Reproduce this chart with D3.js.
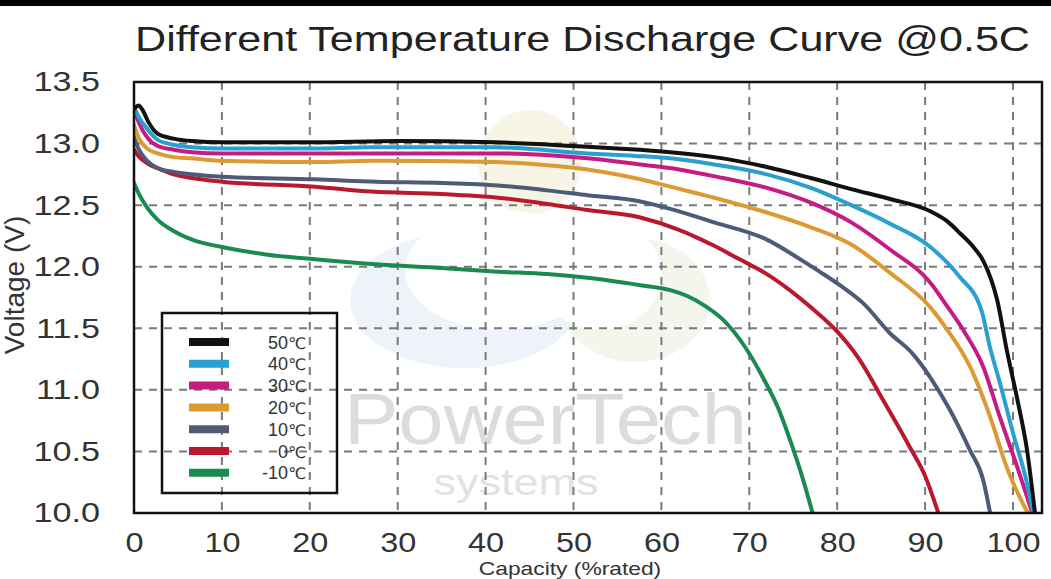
<!DOCTYPE html>
<html><head><meta charset="utf-8">
<script src="https://cdn.jsdelivr.net/npm/d3@7"></script>
<style>body{margin:0;background:#fff;} svg{display:block;}</style>
</head><body><svg id="c" width="1051" height="579"></svg>
<script>
const chartTitle = "Different Temperature Discharge Curve @0.5C";
const xLabel = "Capacity (%rated)";
const yLabel = "Voltage (V)";
const xTicks = [0,10,20,30,40,50,60,70,80,90,100];
const yTicks = [10.0,10.5,11.0,11.5,12.0,12.5,13.0,13.5];
const seriesTemps = ["50","40","30","20","10","0","-10"];
const tempUnit = "℃";

const s50 = [[0,13.28],[0.5,13.31],[1,13.27],[1.6,13.18],[2.7,13.08],[4.5,13.04],[6.6,13.02],[10,13.01],[20,13.01],[30,13.02],[41,13.01],[50,12.98],[55,12.96],[61,12.93],[66,12.89],[72,12.81],[77,12.72],[81.6,12.63],[86,12.55],[90.6,12.45],[92.5,12.37],[94,12.27],[95.5,12.16],[96.6,12.05],[97.5,11.9],[98.2,11.73],[99.3,11.32],[100.5,10.92],[101.6,10.51],[102.5,10.0]];
const s40 = [[0,13.3],[0.5,13.22],[1.5,13.12],[2.7,13.03],[4.5,12.99],[6.6,12.97],[10,12.96],[20,12.96],[27,12.97],[41,12.97],[51.6,12.92],[57,12.9],[61,12.88],[66,12.83],[72,12.75],[77,12.64],[81.6,12.5],[86,12.35],[90.6,12.16],[93.9,11.92],[96.4,11.65],[97.4,11.34],[98.5,11.06],[100,10.65],[101.6,10.24],[102.3,10.0]];
const s30 = [[0,13.28],[0.5,13.18],[1.5,13.05],[2.7,12.98],[4.5,12.95],[6.6,12.93],[10,12.92],[20,12.92],[30,12.92],[41,12.92],[51.6,12.88],[57.6,12.83],[62,12.79],[67,12.72],[72,12.64],[77,12.52],[81.6,12.36],[86,12.14],[90.6,11.87],[92.5,11.68],[94.3,11.49],[96.6,11.19],[98.5,10.78],[100.5,10.37],[102.2,10.0]];
const s20 = [[0,13.15],[0.5,13.05],[1.5,12.96],[2.7,12.92],[4.5,12.89],[6.6,12.88],[10,12.86],[20.6,12.85],[27,12.86],[41,12.85],[46,12.83],[51.6,12.79],[57.6,12.71],[61,12.65],[66,12.56],[72,12.44],[77,12.32],[81.6,12.18],[86,11.95],[90.6,11.67],[92.5,11.49],[95.1,11.19],[97.4,10.78],[99.3,10.37],[101.1,10.08],[101.7,10.0]];
const s10 = [[0,13.05],[0.5,12.96],[1.5,12.86],[2.7,12.8],[4.5,12.77],[6.6,12.75],[10,12.73],[20.6,12.71],[27.5,12.69],[35,12.68],[41.4,12.66],[47,12.62],[51.6,12.58],[57.6,12.53],[61,12.47],[66,12.36],[72,12.22],[75.8,12.06],[78,11.96],[80.3,11.85],[83,11.7],[86,11.46],[88.5,11.3],[90.6,11.1],[92.8,10.84],[95.1,10.51],[96.6,10.27],[97.4,10.0]];
const s0 = [[0,12.95],[0.5,12.9],[1.5,12.84],[2.7,12.8],[4.5,12.75],[6.6,12.72],[10,12.69],[20.6,12.65],[27,12.61],[35,12.59],[41.4,12.56],[47,12.51],[51.6,12.46],[57.6,12.4],[62,12.3],[66,12.17],[68.9,12.06],[72,11.94],[74.6,11.81],[77,11.67],[80.3,11.45],[82.5,11.25],[85.2,10.92],[88.3,10.53],[90,10.3],[91.5,10.0]];
const sm10 = [[0,12.68],[0.5,12.6],[1.5,12.48],[2.7,12.38],[4.5,12.29],[6.6,12.22],[10,12.16],[15,12.1],[20.6,12.06],[27.5,12.02],[35,11.99],[41.4,11.96],[47,11.94],[51.6,11.91],[57.6,11.85],[61,11.81],[63,11.76],[65,11.68],[67,11.57],[69.5,11.35],[71.7,11.08],[73.3,10.85],[74.6,10.6],[76,10.3],[77.2,10.0]];
const seriesData = [s50,s40,s30,s20,s10,s0,sm10];
const seriesColors = ["#111111","#2a9fd2","#c41c83","#dc9a33","#4d5a78","#b8192e","#1b8a50"];

const svg = d3.select("#c");
const FONT = "'Liberation Sans', Arial, sans-serif";
const SYM = "'DejaVu Sans', sans-serif";
const L=134, R=1042, T=82, B=513;
const x = d3.scaleLinear().domain([0,103.3]).range([L,R]);
const y = d3.scaleLinear().domain([10,13.5]).range([B,T]);

function stretch(sel,k){ sel.each(function(){ const w=this.getComputedTextLength(); d3.select(this).attr("textLength",w*k).attr("lengthAdjust","spacingAndGlyphs"); }); }

svg.append("rect").attr("x",0).attr("y",0).attr("width",1051).attr("height",579).attr("fill","#fff");
svg.append("rect").attr("x",0).attr("y",0).attr("width",1051).attr("height",6).attr("fill","#000");

// faint watermark logo
const wm = svg.append("g").attr("opacity",0.5);
wm.append("circle").attr("cx",530).attr("cy",162).attr("r",52).attr("fill","#f1efcf");
wm.append("ellipse").attr("cx",465).attr("cy",300).attr("rx",115).attr("ry",68).attr("fill","#dde8f4");
wm.append("ellipse").attr("cx",500).attr("cy",270).attr("rx",95).attr("ry",60).attr("fill","#fff");
wm.append("ellipse").attr("cx",635).attr("cy",300).attr("rx",75).attr("ry",62).attr("fill","#e6eedb");
wm.append("ellipse").attr("cx",600).attr("cy",275).attr("rx",62).attr("ry",55).attr("fill","#fff");
svg.append("text").attr("x",344).attr("y",444).attr("font-family",FONT)
  .attr("font-size",72).attr("fill","#dcdcdc").text("PowerTech")
  .attr("textLength",403).attr("lengthAdjust","spacingAndGlyphs");
svg.append("text").attr("x",516).attr("y",495).attr("text-anchor","middle").attr("font-family",FONT)
  .attr("font-size",36).attr("fill","#e2e2e2").text("systems").call(stretch,1.25);

// grid
const grid = svg.append("g").attr("stroke","#7a7a7a").attr("stroke-width",2).attr("stroke-dasharray","8,7");
grid.selectAll("line.v").data(xTicks.filter(d=>d>0)).join("line").attr("class","v")
  .attr("x1",d=>x(d)).attr("x2",d=>x(d)).attr("y1",T).attr("y2",B);
grid.selectAll("line.h").data(yTicks.filter(d=>d>10 && d<13.5)).join("line").attr("class","h")
  .attr("y1",d=>y(d)).attr("y2",d=>y(d)).attr("x1",L).attr("x2",R);

// axes labels via d3 axis
const xAxis = svg.append("g").attr("transform",`translate(0,${B})`)
  .call(d3.axisBottom(x).tickValues(xTicks).tickFormat(d3.format("d")).tickSize(0).tickPadding(20));
xAxis.select(".domain").remove();
xAxis.selectAll("text").attr("font-family",FONT).attr("font-size",27).attr("fill","#333").call(stretch,1.2);

const yAxis = svg.append("g").attr("transform",`translate(${L},0)`)
  .call(d3.axisLeft(y).tickValues(yTicks).tickFormat(d3.format(".1f")).tickSize(0).tickPadding(34));
yAxis.select(".domain").remove();
yAxis.selectAll("text").attr("font-family",FONT).attr("font-size",28).attr("fill","#333").call(stretch,1.22);

// curves
svg.append("clipPath").attr("id","pc").append("rect").attr("x",L).attr("y",T).attr("width",R-L).attr("height",B-T);
const line = d3.line().x(d=>x(d[0])).y(d=>y(d[1])).curve(d3.curveMonotoneX);
const lines = svg.append("g").attr("clip-path","url(#pc)");
for (let idx = seriesData.length-1; idx >= 0; idx--) {
  lines.append("path").attr("d",line(seriesData[idx])).attr("fill","none").attr("stroke",seriesColors[idx])
    .attr("stroke-width",4).attr("stroke-linejoin","round").attr("stroke-linecap","round");
}

// frame
svg.append("rect").attr("x",L).attr("y",T).attr("width",R-L).attr("height",B-T)
  .attr("fill","none").attr("stroke","#111").attr("stroke-width",2.5);

// legend
const lg = svg.append("g");
lg.append("rect").attr("x",162).attr("y",313).attr("width",175).attr("height",180)
  .attr("fill","none").attr("stroke","#111").attr("stroke-width",2.5);
seriesTemps.forEach((n,i)=>{
  const yy = 342 + i*21.8;
  lg.append("line").attr("x1",189).attr("x2",229).attr("y1",yy).attr("y2",yy)
    .attr("stroke",seriesColors[i]).attr("stroke-width",8);
  const t = lg.append("text").attr("x",306).attr("y",yy+6.5).attr("text-anchor","end")
    .attr("font-size",18).attr("fill","#333");
  t.append("tspan").attr("font-family",FONT).text(n);
  t.append("tspan").attr("font-family",SYM).attr("font-size",16).text(tempUnit);
});

// titles
svg.append("text").attr("x",135).attr("y",51).attr("font-family",FONT).attr("font-size",35)
  .attr("fill","#222").text(chartTitle).attr("textLength",895).attr("lengthAdjust","spacingAndGlyphs");
svg.append("text").attr("transform","translate(24,285) rotate(-90)").attr("text-anchor","middle")
  .attr("font-family",FONT).attr("font-size",28).attr("fill","#333").text(yLabel);
svg.append("text").attr("x",570).attr("y",575).attr("text-anchor","middle").attr("font-family",FONT)
  .attr("font-size",19).attr("fill","#333").text(xLabel).call(stretch,1.2);
</script></body></html>
